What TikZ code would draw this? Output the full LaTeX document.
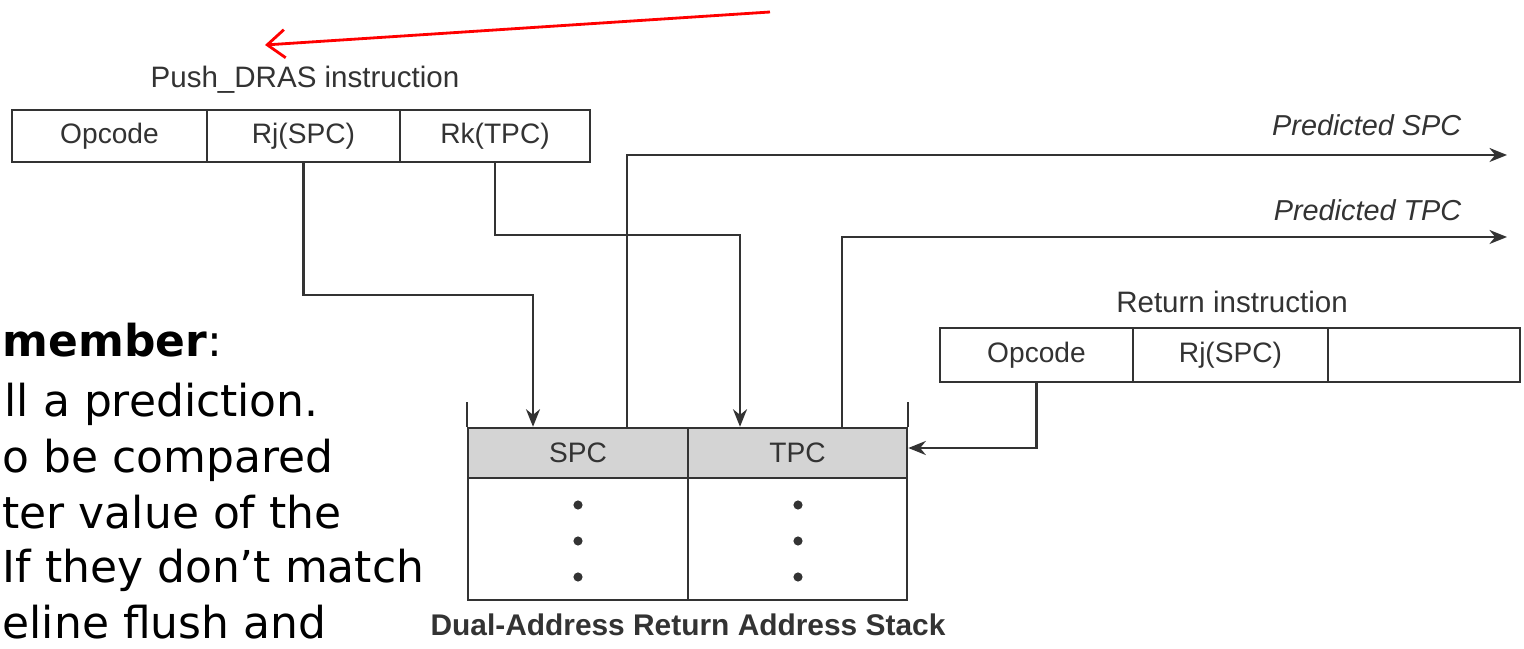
\documentclass[tikz,border=0pt]{standalone}
\usepackage{fontspec}
\setmainfont{Liberation Sans}
\newfontfamily\notefont{DejaVu Sans}
\usetikzlibrary{arrows.meta}
\definecolor{ink}{HTML}{333333}
\definecolor{shade}{HTML}{D4D4D4}
\tikzset{
  cell/.style={draw=ink, line width=0.7pt, inner sep=0pt, text=ink,
               font=\fontsize{8}{9.6}\selectfont},
  lbl/.style={text=ink, inner sep=0pt, font=\fontsize{8.4}{10}\selectfont},
  plbl/.style={text=ink, inner sep=0pt, font=\fontsize{8.2}{10}\selectfont\itshape},
  ttl/.style={text=ink, inner sep=0pt, font=\fontsize{8.5}{10}\selectfont\bfseries},
  note/.style={inner sep=0pt, anchor=base west, font=\notefont\fontsize{12.5}{15}\selectfont},
  wire/.style={draw=ink, line width=0.6pt},
  arr/.style={wire, -{Stealth[length=5pt,width=4pt]}},
}
\begin{document}
\begin{tikzpicture}[x=0.01cm,y=-0.01cm]
\useasboundingbox (0,0) rectangle (1524,649);
\fill[white] (0,0) rectangle (1524,649);

% Push_DRAS instruction
\node[lbl] (pushlbl) at (305,80) {Push\_DRAS instruction};
\node[cell, minimum width=1.95cm, minimum height=0.52cm] (pop) at (109.5,136) {Opcode};
\node[cell, minimum width=1.93cm, minimum height=0.52cm] (prj) at (303.5,136) {Rj(SPC)};
\node[cell, minimum width=1.90cm, minimum height=0.52cm] (prk) at (495,136) {Rk(TPC)};

% Return instruction
\node[lbl] (retlbl) at (1232,302) {Return instruction};
\node[cell, minimum width=1.93cm, minimum height=0.54cm] (rop) at (1036.5,355) {Opcode};
\node[cell, minimum width=1.95cm, minimum height=0.54cm] (rrj) at (1230.5,355) {Rj(SPC)};
\node[cell, minimum width=1.92cm, minimum height=0.54cm] (rem) at (1424,355) {};

% Stack
\node[cell, fill=shade, minimum width=2.20cm, minimum height=0.50cm] (spc) at (578,453) {SPC};
\node[cell, fill=shade, minimum width=2.19cm, minimum height=0.50cm] (tpc) at (797.5,453) {TPC};
\node[cell, minimum width=2.20cm, minimum height=1.22cm] (sl) at (578,539) {};
\node[cell, minimum width=2.19cm, minimum height=1.22cm] (tl) at (797.5,539) {};
\draw[wire] (spc.north west) -- ++(0,-25);
\draw[wire] (tpc.north east) -- ++(0,-25);
\foreach \yy in {505,541,577}{
  \fill[ink] (578,\yy) circle[radius=1.3pt];
  \fill[ink] (798,\yy) circle[radius=1.3pt];
}
\node[ttl] (title) at (688,625) {Dual-Address Return Address Stack};

% connectors
\coordinate (a1) at (533,295);
\coordinate (a2) at (740,235);
\draw[arr] (prj.south) |- (a1) -- (a1 |- spc.north);
\draw[arr] (prk.south) |- (a2) -- (a2 |- tpc.north);
\coordinate (p1) at (627,155);
\coordinate (o1) at (1507,155);
\coordinate (p2) at (842,237);
\coordinate (o2) at (1507,237);
\draw[arr] (p1 |- spc.north) -- (p1) -- (o1);
\draw[arr] (p2 |- tpc.north) -- (p2) -- (o2);
\node[plbl, anchor=east] (pspc) at (1462,125) {Predicted SPC};
\node[plbl, anchor=east] (ptpc) at (1462,210) {Predicted TPC};
\draw[arr] (rop.south) |- ([yshift=0.05cm]tpc.east);

% red arrow
\coordinate (r1) at (770,12);
\coordinate (r2) at (265,45);
\draw[red, line width=0.8pt, -{Straight Barb[length=5pt,width=8pt]}] (r1) -- (r2);

% note text (fragments at left edge)
\node[note] (n1) at (2,357) {\textbf{member}:};
\node[note] (n2) at (4,417) {ll a prediction.};
\node[note] (n3) at (2,472) {o be compared};
\node[note] (n4) at (2,528) {ter value of the};
\node[note] (n5) at (2,583) {If they don’t match};
\node[note] (n6) at (2,638) {eline flush and};
\end{tikzpicture}
\end{document}
